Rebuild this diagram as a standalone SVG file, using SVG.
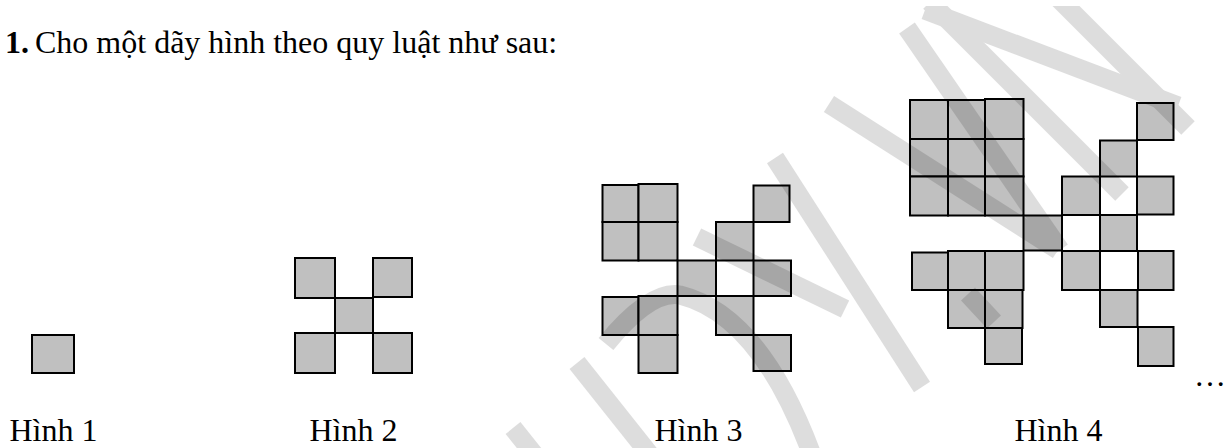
<svg xmlns="http://www.w3.org/2000/svg" width="1228" height="448" viewBox="0 0 1228 448">
<style>
.sq{fill:#c0c0c0;stroke:#000;stroke-width:2;stroke-linejoin:miter}
.t{font-family:"Liberation Serif","Times New Roman",serif;font-size:32px;fill:#000}
.b{font-weight:bold}
.wm{fill:none;stroke:#000;stroke-width:19;stroke-linecap:butt}
</style>
<defs>
<clipPath id="wmclip"><rect x="0" y="6" width="1228" height="442"/></clipPath>
</defs>
<rect width="1228" height="448" fill="#fff"/>
<g id="title">
<text class="t b" x="29" y="53" text-anchor="end">1.</text>
<text class="t" x="35" y="53">Cho một dãy hình theo quy luật như sau:</text>
</g>
<g id="hinh1">
<rect class="sq" x="32" y="335" width="42" height="38"/>
<text class="t" x="9.5" y="441">Hình 1</text>
</g>
<g id="hinh2">
<rect class="sq" x="295" y="258" width="40" height="40"/>
<rect class="sq" x="373" y="258" width="39" height="39"/>
<rect class="sq" x="335" y="298" width="38" height="35"/>
<rect class="sq" x="295" y="333" width="40" height="40"/>
<rect class="sq" x="373" y="333" width="39" height="40"/>
<text class="t" x="309.5" y="441">Hình 2</text>
</g>
<g id="hinh3">
<rect class="sq" x="602.5" y="185" width="36" height="37"/>
<rect class="sq" x="638.5" y="184" width="39" height="38"/>
<rect class="sq" x="602.5" y="222" width="36" height="38.5"/>
<rect class="sq" x="638.5" y="222" width="39" height="38.5"/>
<rect class="sq" x="677.5" y="260.5" width="38.5" height="35.5"/>
<rect class="sq" x="602.5" y="297" width="36" height="38"/>
<rect class="sq" x="638.5" y="296" width="39" height="39"/>
<rect class="sq" x="638.5" y="335" width="39" height="38"/>
<rect class="sq" x="753.5" y="185.5" width="36" height="36.5"/>
<rect class="sq" x="716" y="222" width="37.5" height="38.5"/>
<rect class="sq" x="753.5" y="260.5" width="37.5" height="35.5"/>
<rect class="sq" x="716" y="296" width="37.5" height="39"/>
<rect class="sq" x="753.5" y="335" width="37.5" height="36"/>
<text class="t" x="654.5" y="441">Hình 3</text>
</g>
<g id="hinh4">
<rect class="sq" x="910" y="100" width="38" height="39"/>
<rect class="sq" x="948" y="100" width="37" height="39"/>
<rect class="sq" x="985" y="99" width="38.5" height="40"/>
<rect class="sq" x="910" y="139" width="38" height="37.5"/>
<rect class="sq" x="948" y="139" width="37" height="37.5"/>
<rect class="sq" x="985" y="139" width="38.5" height="37.5"/>
<rect class="sq" x="910" y="176.5" width="38" height="39"/>
<rect class="sq" x="948" y="176.5" width="37" height="39"/>
<rect class="sq" x="985" y="176.5" width="38.5" height="39"/>
<rect class="sq" x="1023.5" y="215.5" width="38.5" height="35"/>
<rect class="sq" x="912" y="252.5" width="36" height="37.5"/>
<rect class="sq" x="948" y="251" width="37" height="39"/>
<rect class="sq" x="985" y="251" width="38.5" height="39"/>
<rect class="sq" x="948" y="290" width="37" height="38"/>
<rect class="sq" x="985" y="290" width="37.5" height="38"/>
<rect class="sq" x="985" y="328" width="37" height="36"/>
<rect class="sq" x="1137" y="103" width="36.5" height="37"/>
<rect class="sq" x="1100" y="140.5" width="37" height="36"/>
<rect class="sq" x="1062" y="176.5" width="38" height="38.5"/>
<rect class="sq" x="1137" y="176.5" width="36.5" height="38"/>
<rect class="sq" x="1100" y="215" width="37" height="36"/>
<rect class="sq" x="1062" y="251" width="38" height="39"/>
<rect class="sq" x="1138" y="251" width="35.5" height="39"/>
<rect class="sq" x="1100" y="290" width="37.5" height="37"/>
<rect class="sq" x="1138" y="327" width="35.5" height="39"/>
<text class="t" x="1014.5" y="441">Hình 4</text>
</g>
<g id="ellipsis">
<text class="t" x="1194" y="386">…</text>
</g>
<g id="watermark" opacity="0.13" clip-path="url(#wmclip)">
<path class="wm" d="M930,2 L1122,194"/>
<path class="wm" d="M925,10 L1178,106"/>
<path class="wm" d="M1055,-5 L1188,128"/>
<path class="wm" d="M907,28 L1060,250"/>
<path class="wm" d="M829,104 L1058,250"/>
<path class="wm" d="M968,294 L994,322"/>
<path class="wm" d="M775,158 L922,387"/>
<path class="wm" d="M697,237 L845,309"/>
<path class="wm" d="M606,344 Q650,290 680,295 Q760,315 812,455"/>
<path class="wm" d="M577,363 L670,480"/>
<path class="wm" d="M513,428 L553,478"/>
</g>
</svg>
